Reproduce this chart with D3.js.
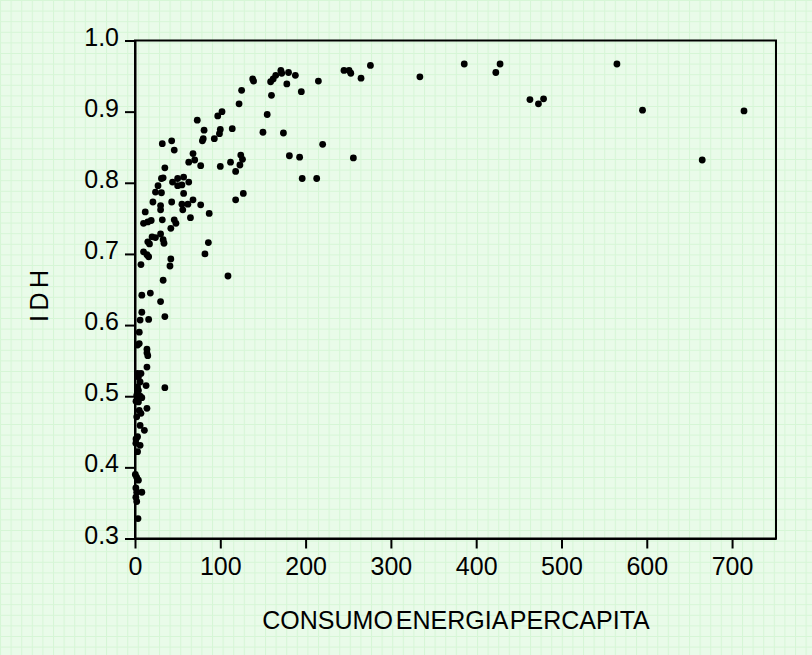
<!DOCTYPE html>
<html>
<head>
<meta charset="utf-8">
<script src="https://cdn.jsdelivr.net/npm/d3@7/dist/d3.min.js"></script>
<style>
  html, body { margin: 0; padding: 0; background: #e8fbe8; }
  svg { display: block; }
  text { font-family: Arial, "Liberation Sans", sans-serif; fill: #000; }
</style>
</head>
<body>
<svg id="chart" width="812" height="655"></svg>
<script>
// Energy consumption per capita (x) vs. IDH (y)
const energia = [
  565, 428, 463, 473, 479, 595, 714, 665, 386, 423,
  245, 251, 253, 265, 276, 334, 215, 195, 220, 193,
  256, 196, 213,
  138, 139, 125, 122, 159, 162, 165, 171, 172, 180,
  188, 178, 160, 155, 150, 174, 181,
  73, 102, 97, 81, 100, 99, 80, 79, 93, 114,
  32, 43, 46, 68, 63, 70, 77, 100, 112, 118,
  124, 126, 123, 35, 33, 31, 44, 50, 57, 63,
  55, 50, 27, 24, 31, 57, 21, 30, 30, 43,
  55, 56, 62, 68, 77, 87, 65, 32, 46, 48,
  12, 10, 15, 19, 42, 118, 127,
  20, 24, 30, 33, 34, 15, 17, 10, 14, 16,
  7, 42, 41, 86, 82, 109, 33, 8, 18, 30,
  8, 6, 16, 35, 5, 3, 5, 14, 14, 15,
  14, 3, 7, 4, 6, 13, 35, 3, 2, 6,
  8, 4, 14, 5, 7, 2, 6, 11, 3, 1,
  6, 3, 0.4, 2, 4, 1, 2, 8, 1, 2,
  3.5, 4, 1.2, 1.2
];
const idh = [
  0.967, 0.967, 0.917, 0.911, 0.918, 0.902, 0.901, 0.832, 0.967, 0.955,
  0.958, 0.958, 0.954, 0.947, 0.965, 0.949, 0.943, 0.928, 0.854, 0.836,
  0.835, 0.806, 0.806,
  0.946, 0.943, 0.930, 0.911, 0.942, 0.946, 0.951, 0.958, 0.954, 0.955,
  0.951, 0.939, 0.923, 0.896, 0.871, 0.870, 0.838,
  0.888, 0.900, 0.894, 0.874, 0.875, 0.869, 0.862, 0.859, 0.862, 0.876,
  0.855, 0.859, 0.846, 0.841, 0.829, 0.832, 0.824, 0.823, 0.829, 0.816,
  0.839, 0.833, 0.825, 0.821, 0.807, 0.806, 0.801, 0.806, 0.808, 0.801,
  0.797, 0.796, 0.796, 0.787, 0.786, 0.785, 0.773, 0.768, 0.762, 0.773,
  0.770, 0.762, 0.770, 0.776, 0.769, 0.757, 0.751, 0.748, 0.748, 0.743,
  0.759, 0.743, 0.745, 0.747, 0.736, 0.776, 0.785,
  0.724, 0.723, 0.728, 0.720, 0.715, 0.717, 0.714, 0.703, 0.699, 0.696,
  0.685, 0.693, 0.683, 0.716, 0.700, 0.669, 0.663, 0.642, 0.645, 0.633,
  0.618, 0.607, 0.608, 0.612, 0.590, 0.572, 0.574, 0.566, 0.561, 0.557,
  0.541, 0.532, 0.532, 0.527, 0.520, 0.515, 0.512, 0.513, 0.501, 0.500,
  0.498, 0.492, 0.483, 0.480, 0.476, 0.471, 0.459, 0.452, 0.443, 0.434,
  0.431, 0.422, 0.390, 0.386, 0.382, 0.371, 0.365, 0.365, 0.358, 0.352,
  0.328, 0.508, 0.493, 0.440
];
const xTicks = [0, 100, 200, 300, 400, 500, 600, 700];
const yTicks = [0.3, 0.4, 0.5, 0.6, 0.7, 0.8, 0.9, 1.0];
const xTitle = "CONSUMO ENERGIA PERCAPITA";
const yTitle = "IDH";

const W = 812, H = 655;
const svg = d3.select("#chart");

// background with light green graph-paper grid
const defs = svg.append("defs");
const pat = defs.append("pattern")
  .attr("id", "grid").attr("patternUnits", "userSpaceOnUse")
  .attr("width", 10.6).attr("height", 10.6);
pat.append("rect").attr("width", 10.6).attr("height", 10.6).attr("fill", "#e9fbe9");
pat.append("path").attr("d", "M0,0.5H10.6M0.5,0V10.6")
  .attr("stroke", "#d6f6d6").attr("stroke-width", 1).attr("fill", "none");
svg.append("rect").attr("width", W).attr("height", H).attr("fill", "url(#grid)");

const x = d3.scaleLinear().domain([0, 751.5]).range([135, 776]);
const y = d3.scaleLinear().domain([0.3, 1.0]).range([538.5, 40.5]);

// plot frame
svg.append("rect")
  .attr("x", x(0)).attr("y", y(1.0))
  .attr("width", x(751.5) - x(0)).attr("height", y(0.3) - y(1.0))
  .attr("fill", "none").attr("stroke", "#000").attr("stroke-width", 2);

// axes
const xAxis = d3.axisBottom(x).tickValues(xTicks).tickFormat(d3.format("d"))
  .tickSizeOuter(0).tickSizeInner(10).tickPadding(9);
const gx = svg.append("g").attr("transform", `translate(0,${y(0.3)})`).call(xAxis);
const yAxis = d3.axisLeft(y).tickValues(yTicks).tickFormat(d3.format(".1f"))
  .tickSizeOuter(0).tickSizeInner(10).tickPadding(6);
const gy = svg.append("g").attr("transform", `translate(${x(0)},0)`).call(yAxis);

[gx, gy].forEach(g => {
  g.select(".domain").attr("stroke", "#000").attr("stroke-width", 2);
  g.selectAll(".tick line").attr("stroke", "#000").attr("stroke-width", 2);
  g.selectAll(".tick text").attr("font-size", 25)
    .attr("font-family", "Arial, 'Liberation Sans', sans-serif").attr("fill", "#000");
});
gy.selectAll(".tick text").attr("dy", "0.18em");

// points
const pts = energia.map((v, i) => ({ x: v, y: idh[i] }));
svg.append("g").selectAll("circle").data(pts).join("circle")
  .attr("cx", d => x(d.x)).attr("cy", d => y(d.y))
  .attr("r", 3.4).attr("fill", "#000");

// titles
svg.append("text")
  .attr("x", 456).attr("y", 629)
  .attr("text-anchor", "middle").attr("font-size", 25)
  .attr("word-spacing", -4)
  .text(xTitle);
svg.append("text")
  .attr("transform", "translate(48,296) rotate(-90)")
  .attr("text-anchor", "middle").attr("font-size", 25)
  .attr("textLength", 52).attr("lengthAdjust", "spacing")
  .text(yTitle);
</script>
</body>
</html>
